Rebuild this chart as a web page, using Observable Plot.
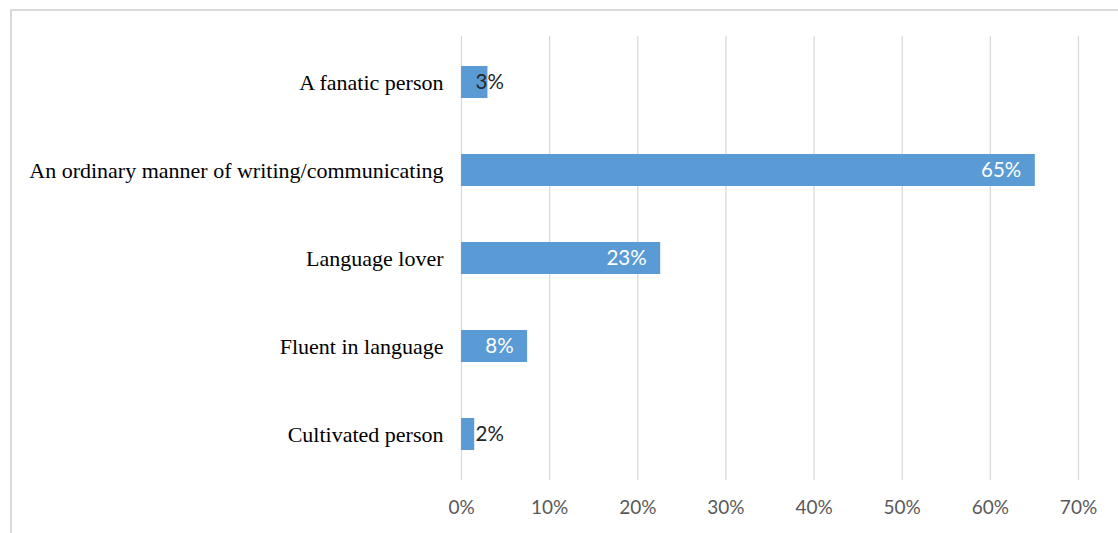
<!DOCTYPE html>
<html>
<head>
<meta charset="utf-8">
<script src="https://cdn.jsdelivr.net/npm/d3@7"></script>
<script src="https://cdn.jsdelivr.net/npm/@observablehq/plot@0.6"></script>
<style>
  html, body { margin: 0; padding: 0; background: #fff; }
  #wrap { position: relative; width: 1118px; height: 533px; overflow: hidden; }
  #border { position: absolute; left: 10px; top: 9px; width: 1200px; height: 600px; border: 2px solid #d9d9d9; box-sizing: border-box; }
  #chart { position: absolute; left: 0; top: 0; }
</style>
</head>
<body>
<div id="wrap"><div id="border"></div><div id="chart"></div></div>
<script>
const categories = [
  "A fanatic person",
  "An ordinary manner of writing/communicating",
  "Language lover",
  "Fluent in language",
  "Cultivated person"
];
const values = [3.0, 65.1, 22.6, 7.5, 1.5];
const xTicks = [0, 10, 20, 30, 40, 50, 60, 70];

const data = categories.map((c, i) => ({category: c, value: values[i], label: Math.round(values[i]) + "%"}));
const inside = data.filter(d => d.value >= 5);
const outside = data.filter(d => d.value < 5);
const sans = "Lato, 'Open Sans', sans-serif";

const plot = Plot.plot({
  width: 1118,
  height: 533,
  marginLeft: 461,
  marginRight: 40,
  marginTop: 36,
  marginBottom: 53,
  style: {background: "transparent", overflow: "visible"},
  x: {domain: [0, 70], ticks: xTicks, tickFormat: d => d + "%", label: null},
  y: {domain: categories, paddingInner: 0.64, paddingOuter: 0.32, label: null},
  marks: [
    Plot.gridX(xTicks, {stroke: "#d9d9d9", strokeOpacity: 1, strokeWidth: 1.3}),
    Plot.axisX({ticks: xTicks, tickFormat: d => d + "%", tickSize: 0, tickPadding: 20, fontSize: 19, fill: "#595959", fontFamily: sans, label: null}),
    Plot.axisY({tickSize: 0, tickPadding: 18, fontSize: 22, fill: "#000", fontFamily: "'Liberation Serif', 'DejaVu Serif', serif", label: null}),
    Plot.barX(data, {y: "category", x: "value", fill: "#5b9bd5"}),
    Plot.text(inside, {y: "category", x: "value", text: "label", textAnchor: "end", dx: -14, fill: "#ffffff", fontSize: 20.5, fontFamily: sans}),
    Plot.text(outside, {y: "category", x: () => 0, text: "label", textAnchor: "start", dx: 14, fill: "#262626", fontSize: 20.5, fontFamily: sans})
  ]
});
document.getElementById("chart").appendChild(plot);
</script>
</body>
</html>
